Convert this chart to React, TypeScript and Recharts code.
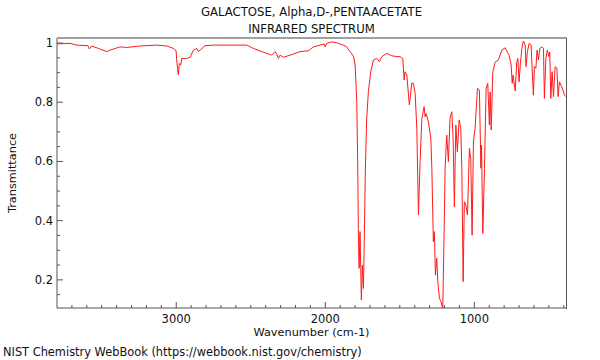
import { Line, LineChart, XAxis, YAxis } from 'recharts';

const title = 'GALACTOSE, Alpha,D-,PENTAACETATE';
const subtitle = 'INFRARED SPECTRUM';
const xLabel = 'Wavenumber (cm-1)';
const yLabel = 'Transmittance';
const footer = 'NIST Chemistry WebBook (https://webbook.nist.gov/chemistry)';

// wavenumber (cm-1), high to low
const wavenumber = [
  3798, 3713, 3668, 3592, 3583, 3567, 3523, 3466, 3444, 3377, 3332, 3243, 3131, 3064, 3020, 3001,
  2997, 2986, 2979, 2970, 2963, 2930, 2907, 2885, 2862, 2852, 2840, 2807, 2751, 2527, 2483, 2393,
  2359, 2337, 2326, 2315, 2303, 2281, 2236, 2169, 2113, 2080, 2035, 2008, 2001, 1990, 1956, 1923,
  1879, 1856, 1834, 1811, 1800, 1789, 1782, 1778, 1773, 1767, 1762, 1758, 1751, 1744, 1738, 1731,
  1722, 1711, 1695, 1677, 1654, 1637, 1621, 1587, 1554, 1520, 1498, 1487, 1480, 1471, 1465, 1453,
  1436, 1420, 1409, 1397, 1386, 1375, 1364, 1352, 1337, 1330, 1324, 1308, 1292, 1285, 1275, 1268,
  1261, 1252, 1245, 1234, 1223, 1212, 1203, 1196, 1185, 1174, 1163, 1151, 1142, 1134, 1124, 1114,
  1102, 1091, 1084, 1075, 1067, 1057, 1046, 1033, 1024, 1015, 1006, 995, 979, 966, 956, 952,
  943, 932, 921, 910, 899, 894, 887, 876, 861, 838, 816, 793, 767, 753, 746, 740,
  726, 715, 708, 700, 691, 681, 671, 659, 653, 644, 632, 619, 604, 597, 587, 579,
  570, 561, 547, 536, 530, 520, 510, 500, 494, 487, 478, 469, 458, 446, 438, 429,
  413, 395, 386,
];

const transmittance = [
  0.997, 0.999, 0.993, 0.991, 0.98, 0.99, 0.982, 0.971, 0.976, 0.987, 0.985, 0.99, 0.993, 0.99, 0.982, 0.974,
  0.943, 0.892, 0.931, 0.926, 0.948, 0.948, 0.952, 0.976, 0.982, 0.971, 0.976, 0.991, 0.993, 0.993, 0.982, 0.965,
  0.959, 0.971, 0.963, 0.948, 0.959, 0.952, 0.959, 0.971, 0.974, 0.987, 0.993, 0.997, 0.987, 0.999, 1.004, 1.001,
  0.993, 0.987, 0.971, 0.956, 0.926, 0.807, 0.578, 0.351, 0.239, 0.363, 0.239, 0.132, 0.25, 0.171, 0.351, 0.578,
  0.746, 0.835, 0.903, 0.943, 0.948, 0.937, 0.954, 0.965, 0.957, 0.954, 0.954, 0.95, 0.948, 0.875, 0.903, 0.892,
  0.791, 0.864, 0.864, 0.83, 0.712, 0.419, 0.599, 0.746, 0.785, 0.751, 0.762, 0.734, 0.678, 0.577, 0.329, 0.363,
  0.216, 0.273, 0.194, 0.137, 0.126, 0.1, 0.351, 0.577, 0.689, 0.599, 0.746, 0.768, 0.672, 0.447, 0.723, 0.633,
  0.74, 0.712, 0.577, 0.194, 0.464, 0.453, 0.419, 0.644, 0.61, 0.351, 0.667, 0.712, 0.847, 0.841, 0.577, 0.655,
  0.357, 0.577, 0.847, 0.864, 0.723, 0.835, 0.706, 0.903, 0.935, 0.943, 0.976, 0.984, 0.959, 0.926, 0.864, 0.892,
  0.838, 0.937, 0.948, 0.869, 0.931, 0.982, 1.007, 0.993, 0.92, 0.971, 0.999, 0.993, 0.824, 0.92, 0.915, 0.976,
  0.943, 0.982, 0.987, 0.982, 0.813, 0.948, 0.976, 0.954, 0.969, 0.813, 0.903, 0.819, 0.92, 0.915, 0.819, 0.869,
  0.852, 0.824, 0.819,
];

const xTicks = [
  400, 500, 600, 700, 800, 900, 1000, 1100, 1200, 1300, 1400, 1500, 1600, 1700, 1800, 1900, 2000,
  2100, 2200, 2300, 2400, 2500, 2600, 2700, 2800, 2900, 3000, 3100, 3200, 3300, 3400, 3500, 3600,
  3700,
];
const xLabelled = [1000, 2000, 3000];
const yTicks = [0.15, 0.2, 0.25, 0.3, 0.35, 0.4, 0.45, 0.5, 0.55, 0.6, 0.65, 0.7, 0.75, 0.8, 0.85, 0.9, 0.95, 1];
const yLabelled = [0.2, 0.4, 0.6, 0.8, 1];

const spectrum = wavenumber.map((w, i) => ({ w, t: transmittance[i] }));

const font = '"DejaVu Sans", sans-serif';
const axisColor = '#555';

function XTick({ x, y, payload }: any) {
  const v = payload.value;
  const major = xLabelled.includes(v);
  return (
    <g>
      <line x1={x} x2={x} y1={y} y2={y - (major ? 6 : 3)} stroke={axisColor} />
      {major && (
        <text x={x} y={y + 15} textAnchor="middle" fontSize={11.5} fontFamily={font} fill="#111">
          {v}
        </text>
      )}
    </g>
  );
}

function YTick({ x, y, payload }: any) {
  const v = payload.value;
  const major = yLabelled.some((l) => Math.abs(l - v) < 1e-6);
  return (
    <g>
      <line x1={x} x2={x + (major ? 6 : 3)} y1={y} y2={y} stroke={axisColor} />
      {major && (
        <text x={x - 4} y={y + 4} textAnchor="end" fontSize={11.5} fontFamily={font} fill="#111">
          {v}
        </text>
      )}
    </g>
  );
}

const textStyle = { position: 'absolute' as const, fontFamily: font, color: '#111', whiteSpace: 'nowrap' as const };

export default function App() {
  return (
    <div style={{ position: 'absolute', left: 0, top: 0, width: 600, height: 360, background: '#fff' }}>
      <LineChart width={600} height={360} data={spectrum} margin={{ top: 38, right: 34, bottom: 51, left: 56 }}>
        <XAxis
          dataKey="w"
          type="number"
          domain={[385, 3800]}
          reversed
          allowDataOverflow
          ticks={xTicks}
          interval={0}
          tick={<XTick />}
          tickSize={0}
          tickMargin={0}
          height={1}
          stroke={axisColor}
        />
        <YAxis
          dataKey="t"
          type="number"
          domain={[0.105, 1.017]}
          allowDataOverflow
          ticks={yTicks}
          interval={0}
          tick={<YTick />}
          tickSize={0}
          tickMargin={0}
          width={1}
          stroke={axisColor}
        />
        <Line type="linear" dataKey="t" stroke="#ff1a1a" strokeWidth={1} dot={false} isAnimationActive={false} />
      </LineChart>
      <div
        style={{
          position: 'absolute',
          left: 57,
          top: 37,
          width: 510,
          height: 272,
          borderTop: '2px solid #a0a0a0',
          borderRight: `1px solid ${axisColor}`,
          boxSizing: 'border-box',
          pointerEvents: 'none',
        }}
      />
      <div style={{ ...textStyle, fontSize: 11.7, left: 0, width: 623, top: 5, textAlign: 'center' }}>{title}</div>
      <div style={{ ...textStyle, fontSize: 11.7, left: 0, width: 623, top: 22, textAlign: 'center' }}>{subtitle}</div>
      <div style={{ ...textStyle, fontSize: 11.3, left: 0, width: 623, top: 326, textAlign: 'center' }}>{xLabel}</div>
      <div style={{ ...textStyle, fontSize: 11.4, left: 3, top: 345 }}>{footer}</div>
      <div
        style={{
          ...textStyle,
          fontSize: 11.3,
          left: 12,
          top: 173,
          transform: 'translate(-50%, -50%) rotate(-90deg)',
        }}
      >
        {yLabel}
      </div>
    </div>
  );
}
